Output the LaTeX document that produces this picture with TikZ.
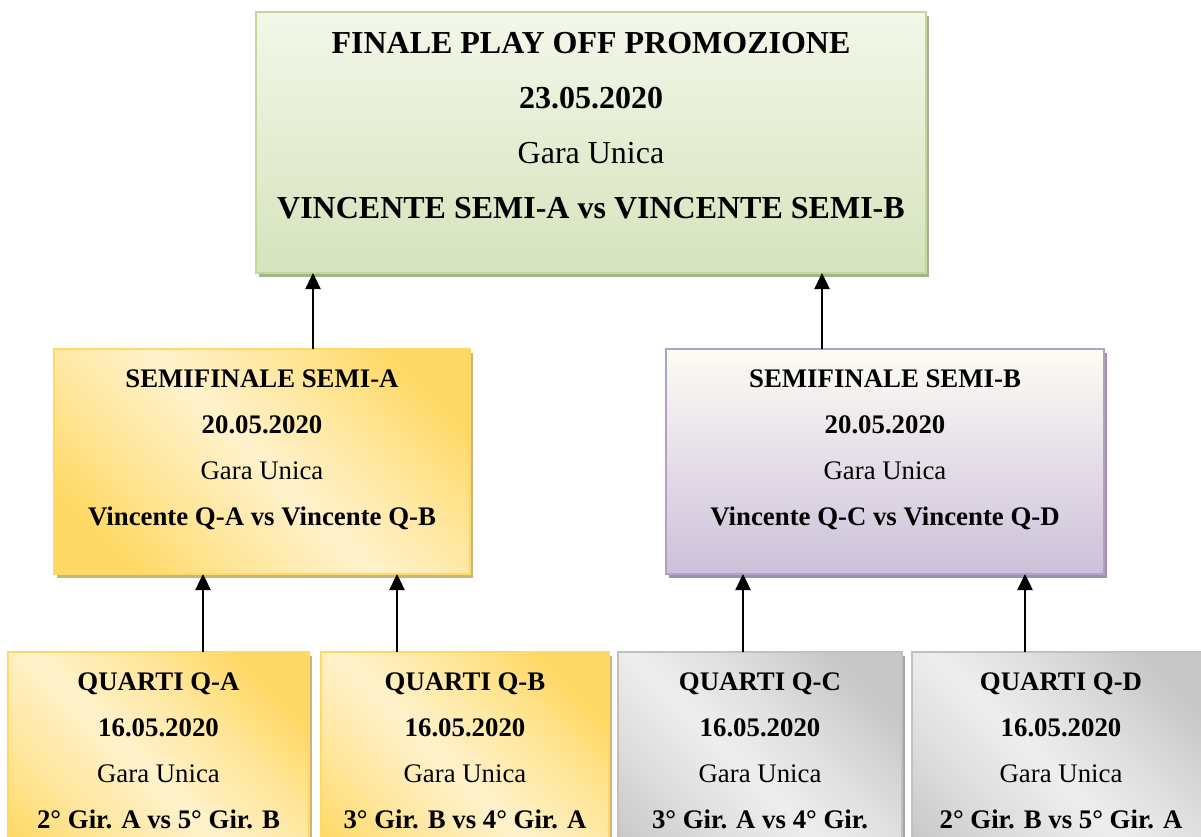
\documentclass[tikz,border=0pt]{standalone}
\usepackage{fontspec}
\setmainfont{Liberation Serif}
\usetikzlibrary{shadows,arrows.meta}
\definecolor{gold}{HTML}{FFD966}
\definecolor{goldlight}{HTML}{FFF2CC}
\definecolor{goldborder}{HTML}{FFD966}
\definecolor{goldshadow}{HTML}{C9B47E}
\definecolor{greentop}{HTML}{F3F7E9}
\definecolor{greenbot}{HTML}{D6E3BC}
\definecolor{greenborder}{HTML}{C3D69B}
\definecolor{greenshadow}{HTML}{A3B38A}
\definecolor{purptop}{HTML}{FDFCF5}
\definecolor{purpbot}{HTML}{CCC0DA}
\definecolor{purpborder}{HTML}{B2A1C7}
\definecolor{purpshadow}{HTML}{9D90B0}
\definecolor{graydark}{HTML}{C8C8C8}
\definecolor{graylight}{HTML}{EEEEEE}
\definecolor{grayborder}{HTML}{C0C0C0}
\definecolor{grayshadow}{HTML}{A6A6A6}
\pgfdeclareverticalshading{diaggold}{100bp}{color(0bp)=(gold); color(24bp)=(gold); color(37bp)=(gold!45!goldlight); color(50bp)=(goldlight); color(63bp)=(gold!45!goldlight); color(76bp)=(gold); color(100bp)=(gold)}
\pgfdeclareverticalshading{diaggray}{100bp}{color(0bp)=(graydark); color(24bp)=(graydark); color(37bp)=(graydark!45!graylight); color(50bp)=(graylight); color(63bp)=(graydark!45!graylight); color(76bp)=(graydark); color(100bp)=(graydark)}
\newcommand{\boxtext}[6]{\parbox[c][#2][t]{#1}{\centering\fontsize{#3}{#4}\selectfont\vspace*{#5}#6\par}}
\tikzset{
  boxbase/.style={inner sep=0pt, outer sep=0pt, line width=2pt, anchor=north west},
  greenbox/.style={boxbase, draw=greenborder, top color=greentop, bottom color=greenbot,
    general shadow={shadow xshift=3pt, shadow yshift=-4pt, fill=greenshadow}},
  yellowbox/.style={boxbase, draw=goldborder, shading=diaggold, shading angle=-45,
    general shadow={shadow xshift=3pt, shadow yshift=-4pt, fill=goldshadow}},
  purplebox/.style={boxbase, draw=purpborder, top color=purptop, bottom color=purpbot,
    general shadow={shadow xshift=3pt, shadow yshift=-4pt, fill=purpshadow}},
  graybox/.style={boxbase, draw=grayborder, shading=diaggray, shading angle=-45,
    general shadow={shadow xshift=3pt, shadow yshift=-4pt, fill=grayshadow}},
  arr/.style={line width=2.4pt, -{Triangle[length=16pt,width=15pt]}}
}
\begin{document}
\begin{tikzpicture}
\useasboundingbox (0,0) rectangle (1201pt,-837pt);
\fill[white] (0,0) rectangle (1201pt,-837pt);
\clip (0,0) rectangle (1201pt,-837pt);

\node[greenbox] (final) at (256pt,-12pt) {\boxtext{670pt}{261pt}{32}{55}{3pt}{%
  \strut\textbf{FINALE PLAY OFF PROMOZIONE}\\
  \strut\textbf{23.05.2020}\\
  \strut Gara Unica\\
  \strut\textbf{VINCENTE SEMI-A vs VINCENTE SEMI-B}}};

\node[yellowbox] (semiA) at (54pt,-349pt) {\boxtext{416pt}{225pt}{26.8}{46}{5.8pt}{%
  \strut\textbf{SEMIFINALE SEMI-A}\\
  \strut\textbf{20.05.2020}\\
  \strut Gara Unica\\
  \strut\textbf{Vincente Q-A vs Vincente Q-B}}};

\node[purplebox] (semiB) at (666pt,-349pt) {\boxtext{438pt}{225pt}{26.8}{46}{5.8pt}{%
  \strut\textbf{SEMIFINALE SEMI-B}\\
  \strut\textbf{20.05.2020}\\
  \strut Gara Unica\\
  \strut\textbf{Vincente Q-C vs Vincente Q-D}}};

\node[yellowbox] (qA) at (8pt,-652pt) {\boxtext{301pt}{260pt}{26.8}{46}{5.8pt}{%
  \strut\textbf{QUARTI Q-A}\\
  \strut\textbf{16.05.2020}\\
  \strut Gara Unica\\
  \strut\textbf{2° Gir. A vs 5° Gir. B}}};

\node[yellowbox] (qB) at (321pt,-652pt) {\boxtext{288pt}{260pt}{26.8}{46}{5.8pt}{%
  \strut\textbf{QUARTI Q-B}\\
  \strut\textbf{16.05.2020}\\
  \strut Gara Unica\\
  \strut\textbf{3° Gir. B vs 4° Gir. A}}};

\node[graybox] (qC) at (618pt,-652pt) {\boxtext{284pt}{260pt}{26.8}{46}{5.8pt}{%
  \strut\textbf{QUARTI Q-C}\\
  \strut\textbf{16.05.2020}\\
  \strut Gara Unica\\
  \strut\textbf{3° Gir. A vs 4° Gir.}}};

\node[graybox] (qD) at (912pt,-652pt) {\boxtext{298pt}{260pt}{26.8}{46}{5.8pt}{%
  \strut\textbf{QUARTI Q-D}\\
  \strut\textbf{16.05.2020}\\
  \strut Gara Unica\\
  \strut\textbf{2° Gir. B vs 5° Gir. A}}};

\draw[arr] ([xshift=51pt]semiA.north) -- ([xshift=51pt]semiA.north |- final.south);
\draw[arr] ([xshift=-63pt]semiB.north) -- ([xshift=-63pt]semiB.north |- final.south);
\draw[arr] ([xshift=44.5pt]qA.north) -- ([xshift=44.5pt]qA.north |- semiA.south);
\draw[arr] ([xshift=-68pt]qB.north) -- ([xshift=-68pt]qB.north |- semiA.south);
\draw[arr] ([xshift=-17pt]qC.north) -- ([xshift=-17pt]qC.north |- semiB.south);
\draw[arr] ([xshift=-36pt]qD.north) -- ([xshift=-36pt]qD.north |- semiB.south);
\end{tikzpicture}
\end{document}
